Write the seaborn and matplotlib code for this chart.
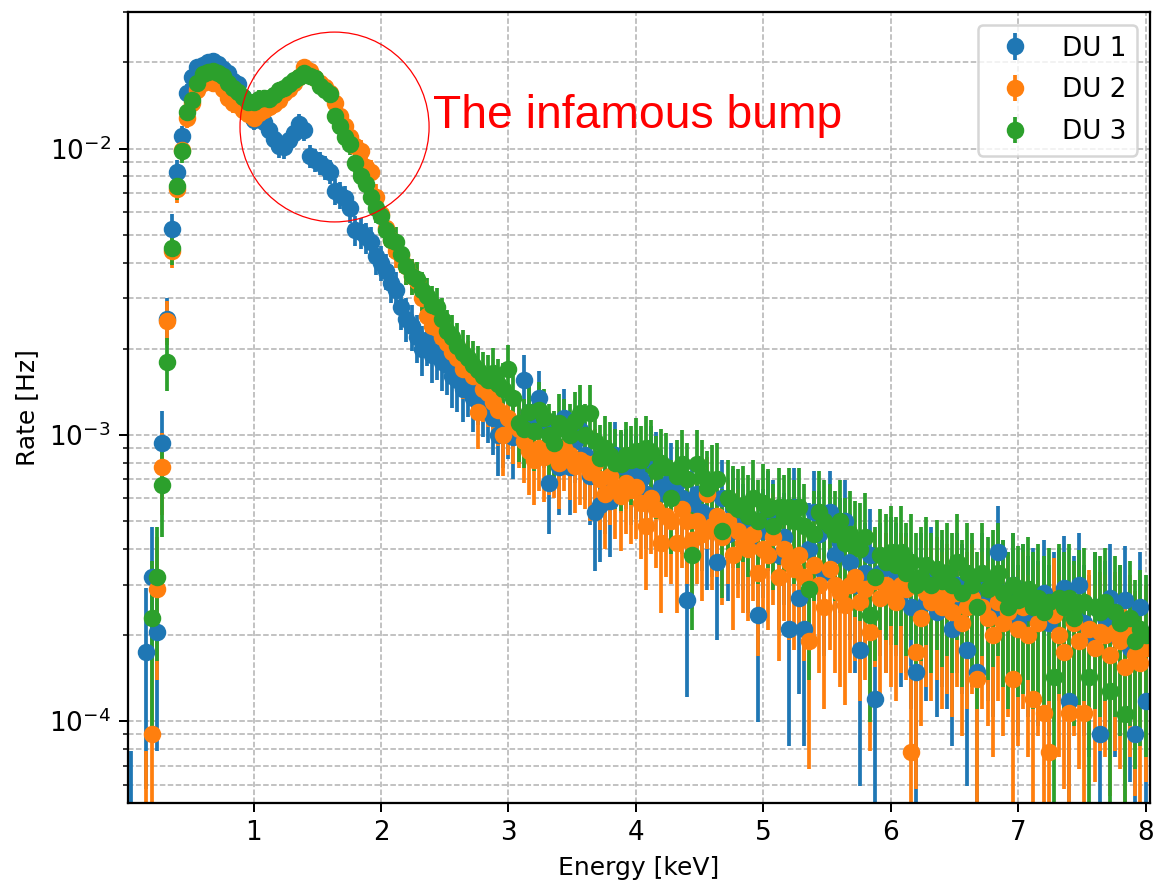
import numpy as np
import matplotlib
matplotlib.use("Agg")
import matplotlib.pyplot as plt
from matplotlib.patches import Ellipse
import seaborn as sns

nan = float("nan")

# ---------------- data ----------------
TITLE = "Energy spectrum"
X_LABEL = "Energy [keV]"
Y_LABEL = "Rate [Hz]"
SERIES_LABELS = ["DU 1", "DU 2", "DU 3"]
X_TICKS = [1, 2, 3, 4, 5, 6, 7, 8]
ANNOTATION = "The infamous bump"

BIN_WIDTH_KEV = 0.04          # energy binning of the spectra
N_BINS = 200                  # bins from 0.04 keV to 8.00 keV
EXPOSURE_S = 12800            # live time used for the Poisson error bars

# count rates per bin, in mHz
rate_du1_mhz = [
    0.03, nan, nan, 0.175, 0.32, 0.205, 0.94, 2.55, 5.25, 8.3,
    11.1, 15.7, 17.8, 19.2, 19.6, 20.0, 20.3, 19.8, 19.0, 18.3,
    17.2, 16.8, 15.2, 14.0, 12.6, 12.9, 12.4, 11.6, 10.8, 10.2,
    10.1, 10.7, 11.3, 12.2, 11.6, 9.4, 9.1, 8.9, 8.6, 8.3,
    7.1, 6.9, 6.7, 6.2, 5.2, 5.1, 4.9, 4.7, 4.2, 4.0,
    3.75, 3.4, 3.2, 2.8, 2.55, 2.4, 2.2, 2.0, 2.15, 1.9,
    1.95, 1.8, 1.75, 1.6, 1.55, 1.45, 1.5, 1.35, 1.42, 1.3,
    1.25, 1.15, 1.0, 1.05, 1.12, 0.98, 1.08, 1.55, 1.2, 1.1,
    1.35, 1.05, 0.68, 0.92, 0.77, 1.15, 0.77, 0.95, 1.04, 0.85,
    0.72, 0.54, 0.57, 0.68, 0.59, 0.85, 0.78, 0.8, 0.72, 0.75,
    0.7, 0.62, 0.82, 0.78, 0.66, 0.62, 0.7, 0.68, 0.6, 0.265,
    0.58, 0.62, 0.54, 0.48, 0.52, 0.36, 0.6, 0.45, 0.55, 0.5,
    0.48, 0.42, 0.5, 0.235, 0.46, 0.54, 0.5, 0.38, 0.44, 0.21,
    0.56, 0.27, 0.21, 0.4, 0.54, 0.45, 0.33, 0.54, 0.38, 0.42,
    0.5, 0.36, 0.3, 0.177, 0.33, 0.38, 0.12, 0.33, 0.3, 0.35,
    0.33, 0.28, 0.3, 0.25, 0.148, 0.3, 0.26, 0.32, 0.24, 0.28,
    0.25, 0.21, 0.3, 0.27, 0.177, 0.28, 0.148, 0.3, 0.26, 0.24,
    0.39, 0.28, 0.25, 0.3, 0.22, 0.27, 0.24, 0.26, 0.23, 0.28,
    0.22, 0.25, 0.26, 0.293, 0.118, 0.24, 0.3, 0.22, 0.2, 0.25,
    0.09, 0.23, 0.27, 0.2, 0.22, 0.265, 0.18, 0.09, 0.25, 0.118,
]

rate_du2_mhz = [
    nan, nan, nan, 0.03, 0.09, 0.29, 0.77, 2.5, 4.4, 7.2,
    9.9, 12.8, 14.4, 16.0, 17.0, 17.4, 16.9, 17.0, 16.2, 15.0,
    14.4, 14.2, 13.6, 13.2, 12.8, 13.3, 13.6, 14.0, 14.3, 14.8,
    15.6, 16.2, 17.0, 17.8, 19.2, 18.6, 17.7, 17.0, 16.4, 15.6,
    14.4, 13.0, 12.0, 11.0, 10.2, 9.8, 8.6, 8.3, 6.8, 5.9,
    5.3, 4.8, 4.4, 4.25, 3.9, 3.6, 3.45, 3.0, 2.6, 2.4,
    2.37, 2.2, 2.1, 1.95, 1.85, 1.7, 1.75, 1.6, 1.2, 1.45,
    1.4, 1.3, 1.22, 1.0, 1.15, 1.08, 1.05, 0.95, 0.88, 0.82,
    0.9, 0.84, 0.88, 0.86, 0.8, 0.9, 0.85, 0.78, 0.82, 0.8,
    0.74, 0.8, 0.7, 0.62, 0.72, 0.66, 0.61, 0.68, 0.64, 0.66,
    0.58, 0.48, 0.6, 0.55, 0.42, 0.52, 0.5, 0.42, 0.55, 0.5,
    0.43, 0.5, 0.45, 0.62, 0.48, 0.52, 0.44, 0.5, 0.38, 0.46,
    0.42, 0.4, 0.45, 0.33, 0.4, 0.38, 0.44, 0.32, 0.4, 0.36,
    0.34, 0.38, 0.32, 0.19, 0.35, 0.3, 0.25, 0.34, 0.3, 0.28,
    0.255, 0.3, 0.32, 0.26, 0.29, 0.205, 0.31, 0.27, 0.3, 0.28,
    0.26, 0.3, 0.29, 0.078, 0.175, 0.23, 0.28, 0.26, 0.29, 0.25,
    0.27, 0.24, 0.28, 0.22, 0.25, 0.27, 0.14, 0.25, 0.23, 0.2,
    0.26, 0.22, 0.24, 0.14, 0.21, 0.25, 0.2, 0.12, 0.22, 0.107,
    0.078, 0.235, 0.2, 0.175, 0.107, 0.22, 0.19, 0.107, 0.21, 0.18,
    0.205, 0.2, 0.17, 0.205, 0.19, 0.155, 0.2, 0.17, 0.16, 0.18,
]

rate_du3_mhz = [
    nan, nan, nan, nan, 0.23, 0.32, 0.67, 1.8, 4.5, 7.4,
    9.8, 13.4, 14.8, 17.0, 18.2, 18.5, 18.7, 18.4, 18.0, 17.0,
    16.3, 15.8, 15.2, 14.6, 14.5, 14.9, 15.0, 14.9, 15.4, 16.0,
    16.3, 16.8, 17.3, 17.8, 18.3, 18.0, 17.6, 16.5, 16.0, 15.5,
    13.0, 12.0, 11.0, 10.4, 8.9, 8.0, 7.5, 6.75, 6.2, 5.8,
    5.2, 4.8, 4.7, 4.3, 3.9, 3.6, 3.5, 3.2, 3.05, 2.85,
    2.8, 2.55, 2.3, 2.2, 2.05, 1.93, 1.85, 1.75, 1.68, 1.6,
    1.55, 1.65, 1.5, 1.45, 1.7, 1.35, 1.1, 1.05, 1.2, 1.03,
    1.22, 1.15, 1.0, 0.94, 1.1, 1.05, 1.0, 1.12, 1.19, 1.0,
    1.19, 0.95, 0.83, 0.9, 0.85, 0.8, 0.79, 0.85, 0.82, 0.88,
    0.82, 0.9, 0.87, 0.75, 0.8, 0.77, 0.6, 0.72, 0.79, 0.7,
    0.38, 0.79, 0.72, 0.65, 0.69, 0.7, 0.46, 0.6, 0.57, 0.55,
    0.57, 0.52, 0.6, 0.5, 0.58, 0.55, 0.48, 0.56, 0.52, 0.56,
    0.5, 0.56, 0.48, 0.29, 0.45, 0.54, 0.5, 0.48, 0.45, 0.5,
    0.42, 0.45, 0.41, 0.4, 0.44, 0.235, 0.32, 0.38, 0.36, 0.39,
    0.35, 0.39, 0.33, 0.36, 0.3, 0.32, 0.35, 0.3, 0.34, 0.31,
    0.33, 0.3, 0.36, 0.28, 0.33, 0.3, 0.25, 0.33, 0.29, 0.31,
    0.33, 0.28, 0.25, 0.3, 0.265, 0.27, 0.29, 0.25, 0.27, 0.24,
    0.26, 0.143, 0.27, 0.25, 0.27, 0.23, 0.255, 0.26, 0.143, 0.25,
    0.24, 0.26, 0.128, 0.24, 0.22, 0.106, 0.23, 0.19, 0.21, 0.2,
]

# ---------------- style ----------------
sns.set_style("ticks")
plt.rcParams.update({
    "font.family": ["DejaVu Sans"],
    "font.size": 10,
    "axes.edgecolor": "black",
    "axes.labelcolor": "black",
    "text.color": "black",
    "xtick.color": "black",
    "ytick.color": "black",
    "axes.linewidth": 0.9,
    "xtick.major.size": 3.5,
    "ytick.major.size": 3.5,
    "ytick.minor.size": 2.0,
    "xtick.labelsize": 10.5,
    "ytick.labelsize": 10.5,
    "axes.labelsize": 10,
    "legend.fontsize": 10.5,
})
palette = sns.color_palette("tab10", 3)

DPI = 180
fig = plt.figure(figsize=(1156 / DPI, 881 / DPI), dpi=DPI)
ax = fig.add_axes([128 / 1156, 1 - 803 / 881, 1022 / 1156, 791 / 881])

energy_kev = BIN_WIDTH_KEV * np.arange(1, N_BINS + 1)

for label, rates_mhz, color in zip(SERIES_LABELS,
                                   [rate_du1_mhz, rate_du2_mhz, rate_du3_mhz],
                                   palette):
    rate_hz = np.asarray(rates_mhz, dtype=float) * 1e-3
    yerr = np.sqrt(np.abs(rate_hz) / EXPOSURE_S)
    ax.errorbar(energy_kev, rate_hz, yerr=yerr, fmt="o", color=color,
                ms=6, elinewidth=1.5, capsize=0, label=label)

ax.set_yscale("log")
ax.set_xlim(0.015, 8.035)
ax.set_ylim(5.18e-5, 3.0e-2)
ax.set_xticks(X_TICKS)
ax.set_xticklabels([str(t) for t in X_TICKS])

ax.grid(True, which="major", axis="both", linestyle="--", color="#b0b0b0", linewidth=0.6)
ax.grid(True, which="minor", axis="y", linestyle="--", color="#b0b0b0", linewidth=0.6)
ax.set_axisbelow(True)

ax.set_xlabel(X_LABEL)
ax.set_ylabel(Y_LABEL)
ax.set_title(TITLE, fontsize=12, pad=7.5)

ax.legend(loc="upper right", labelspacing=0.6)

# annotation: circle around the bump and text
circle = Ellipse((0.2021, 0.8546), width=0.185, height=0.240,
                 transform=ax.transAxes, fill=False, edgecolor="red",
                 linewidth=0.5, zorder=5)
ax.add_patch(circle)
ax.text(0.298, 0.8537, ANNOTATION, transform=ax.transAxes, color="red",
        fontsize=18.5, family=["Liberation Sans", "DejaVu Sans"],
        va="baseline", ha="left", zorder=6)

fig.savefig("out.png", dpi=DPI)
